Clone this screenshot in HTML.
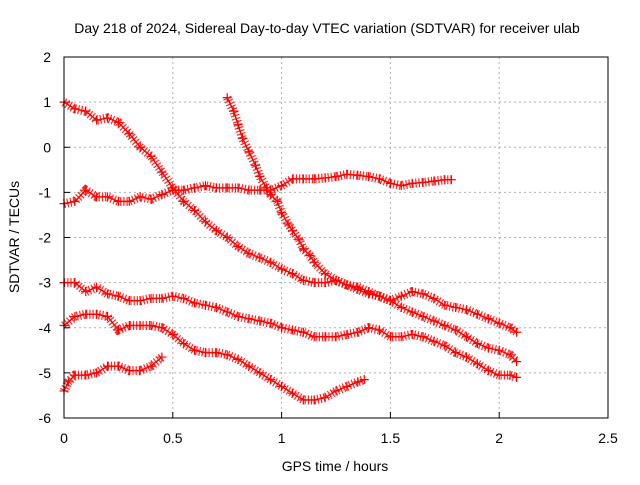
<!DOCTYPE html>
<html><head><meta charset="utf-8"><style>
body{margin:0;background:#fff}
svg text{font-family:"Liberation Sans",sans-serif;font-size:14px;fill:#000}
</style></head><body>
<svg id="chart" width="640" height="480">
<text x="327" y="33" text-anchor="middle">Day 218 of 2024, Sidereal Day-to-day VTEC variation (SDTVAR) for receiver ulab</text>
<text x="335" y="471" text-anchor="middle">GPS time / hours</text>
<text transform="translate(19,237) rotate(-90)" text-anchor="middle">SDTVAR / TECUs</text>
<g id="grid"></g><g id="series"></g>
<rect x="64" y="57" width="544" height="361" fill="none" stroke="#000" stroke-width="1"/>
</svg>
<script>
const xTicks=[0,0.5,1,1.5,2,2.5];
const xTickLabels=["0","0.5","1","1.5","2","2.5"];
const yTicks=[2,1,0,-1,-2,-3,-4,-5,-6];
const yTickLabels=["2","1","0","-1","-2","-3","-4","-5","-6"];
const sAx=[0,0.05,0.1,0.15,0.2,0.25,0.3,0.35,0.4,0.45,0.5,0.55,0.6,0.65,0.7,0.75,0.8,0.85,0.9,0.95,1.0,1.05,1.1,1.15,1.2,1.25,1.3,1.35,1.4,1.45,1.5,1.55,1.6,1.65,1.7,1.75,1.8,1.85,1.9,1.95,2.0,2.05,2.08];
const sAy=[1.0,0.85,0.8,0.6,0.65,0.55,0.3,0.0,-0.2,-0.55,-0.9,-1.2,-1.4,-1.65,-1.85,-2.0,-2.2,-2.35,-2.45,-2.55,-2.7,-2.8,-2.95,-3.0,-3.0,-2.95,-3.05,-3.15,-3.25,-3.3,-3.4,-3.3,-3.2,-3.25,-3.35,-3.5,-3.55,-3.6,-3.7,-3.8,-3.9,-4.0,-4.1];
const sBx=[0,0.05,0.1,0.15,0.2,0.25,0.3,0.35,0.4,0.45,0.5,0.55,0.6,0.65,0.7,0.75,0.8,0.85,0.9,0.95,1.0,1.05,1.1,1.15,1.2,1.25,1.3,1.35,1.4,1.45,1.5,1.55,1.6,1.65,1.7,1.75,1.78];
const sBy=[-1.25,-1.2,-0.95,-1.1,-1.1,-1.2,-1.2,-1.1,-1.15,-1.05,-0.95,-0.95,-0.9,-0.85,-0.9,-0.9,-0.9,-0.95,-0.95,-0.95,-0.85,-0.7,-0.7,-0.7,-0.68,-0.65,-0.6,-0.62,-0.65,-0.7,-0.8,-0.85,-0.8,-0.78,-0.75,-0.72,-0.72];
const sCx=[0.75,0.78,0.8,0.82,0.85,0.88,0.9,0.93,0.95,0.98,1.0,1.03,1.05,1.08,1.1,1.13,1.15,1.2,1.25,1.3,1.35,1.4,1.45,1.5,1.55,1.6,1.65,1.7,1.75,1.8,1.85,1.9,1.95,2.0,2.05,2.08];
const sCy=[1.1,0.8,0.5,0.2,-0.1,-0.4,-0.65,-0.9,-1.05,-1.2,-1.45,-1.7,-1.85,-2.05,-2.25,-2.4,-2.55,-2.8,-2.95,-3.05,-3.1,-3.2,-3.3,-3.4,-3.55,-3.65,-3.75,-3.85,-3.95,-4.05,-4.2,-4.35,-4.45,-4.5,-4.6,-4.75];
const sDx=[0,0.05,0.1,0.15,0.2,0.25,0.3,0.35,0.4,0.45,0.5,0.55,0.6,0.65,0.7,0.75,0.8,0.85,0.9,0.95,1.0,1.05,1.1,1.15,1.2,1.25,1.3,1.35,1.4,1.45,1.5,1.55,1.6,1.65,1.7,1.75,1.8,1.85,1.9,1.95,2.0,2.05,2.08];
const sDy=[-3.0,-3.0,-3.2,-3.1,-3.25,-3.3,-3.4,-3.4,-3.35,-3.35,-3.3,-3.35,-3.45,-3.5,-3.55,-3.65,-3.75,-3.8,-3.85,-3.9,-4.0,-4.05,-4.1,-4.2,-4.2,-4.2,-4.15,-4.1,-4.0,-4.05,-4.2,-4.2,-4.15,-4.2,-4.3,-4.4,-4.55,-4.65,-4.8,-4.95,-5.05,-5.05,-5.1];
const sEx=[0,0.05,0.1,0.15,0.2,0.25,0.3,0.35,0.4,0.45,0.5,0.55,0.6,0.65,0.7,0.75,0.8,0.85,0.9,0.95,1.0,1.05,1.1,1.15,1.2,1.25,1.3,1.35,1.38];
const sEy=[-3.95,-3.75,-3.7,-3.7,-3.75,-4.05,-3.95,-3.95,-3.95,-4.0,-4.15,-4.35,-4.5,-4.55,-4.55,-4.6,-4.7,-4.85,-5.0,-5.15,-5.3,-5.45,-5.6,-5.6,-5.55,-5.4,-5.3,-5.2,-5.15];
const sFx=[0,0.02,0.05,0.1,0.15,0.2,0.25,0.3,0.35,0.4,0.45];
const sFy=[-5.4,-5.2,-5.05,-5.05,-5.0,-4.85,-4.85,-4.95,-4.95,-4.85,-4.65];

const NS="http://www.w3.org/2000/svg";
const X=h=>64+(h-0)/2.5*544;
const Y=v=>57+(2-v)/8*361;
function mk(t,a){const e=document.createElementNS(NS,t);for(const k in a)e.setAttribute(k,a[k]);return e;}
const grid=document.getElementById('grid');
xTicks.forEach((t,i)=>{
  if(i>0&&i<xTicks.length-1){const l=mk('line',{x1:X(t),x2:X(t),y1:57,y2:418,stroke:'#b0b0b0','stroke-dasharray':'2 3'});
  
  grid.appendChild(l);}
  const tk=mk('line',{x1:X(t),x2:X(t),y1:418,y2:412,stroke:'#000'});
  
  grid.appendChild(tk);
  const tx=mk('text',{x:X(t),y:443,'text-anchor':'middle'});tx.textContent=xTickLabels[i];
  
  grid.appendChild(tx);
});
yTicks.forEach((t,i)=>{
  if(i>0&&i<yTicks.length-1){const l=mk('line',{x1:64,x2:608,y1:Y(t),y2:Y(t),stroke:'#b0b0b0','stroke-dasharray':'2 3'});
  
  grid.appendChild(l);}
  const tk=mk('line',{x1:64,x2:70,y1:Y(t),y2:Y(t),stroke:'#000'});
  
  grid.appendChild(tk);
  const tx=mk('text',{x:51,y:Y(t)+5,'text-anchor':'end'});tx.textContent=yTickLabels[i];
  
  grid.appendChild(tx);
});
const sg=document.getElementById('series');
const all=[[sAx,sAy,'series-a'],[sBx,sBy,'series-b'],[sCx,sCy,'series-c'],[sDx,sDy,'series-d'],[sEx,sEy,'series-e'],[sFx,sFy,'series-f']];
all.forEach(([xs,ys,name])=>{
  const g=mk('g',{});
  
  
  const pts=xs.map((x,i)=>X(x)+','+Y(ys[i])).join(' ');
  g.appendChild(mk('polyline',{points:pts,fill:'none',stroke:'#ff0000','stroke-width':1.5}));
  g.appendChild(mk('polyline',{points:pts,fill:'none',stroke:'#ff0000','stroke-width':9,'stroke-dasharray':'1.2 2','opacity':0.85}));
  xs.forEach((x,i)=>{
    const px=X(x),py=Y(ys[i]);
    const p=mk('path',{d:`M${px-4.5},${py}h9M${px},${py-4.5}v9`,stroke:'#ff0000','stroke-width':1.2});
    
    
    g.appendChild(p);
  });
  sg.appendChild(g);
});
</script>
</body></html>
